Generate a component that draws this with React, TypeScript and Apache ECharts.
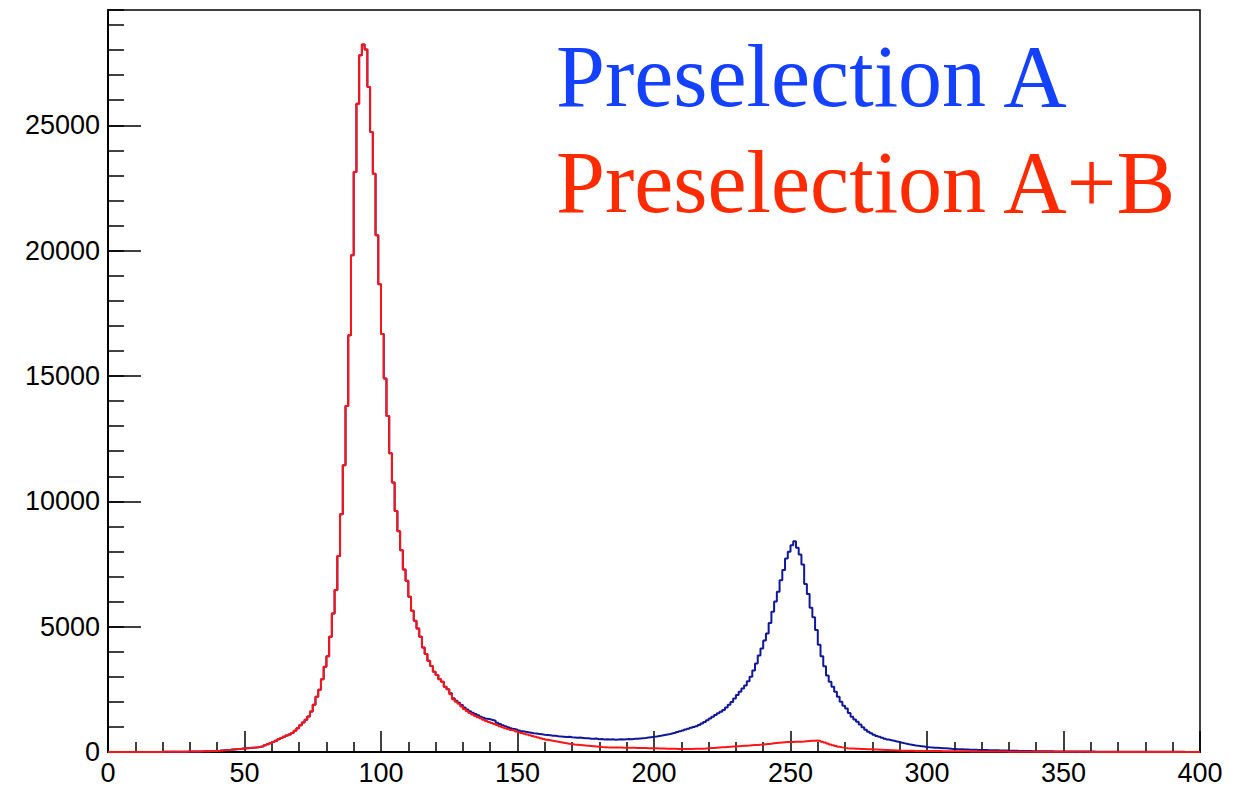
import React, { useEffect, useRef } from "react";
import * as echarts from "echarts";

// Histogram binning (1 unit wide bins from 0 to 400)
const BIN_WIDTH = 1;
const X_MIN = 0;
const X_MAX = 400;
const Y_MAX = 29600;

const SERIES_NAMES = ["Preselection A", "Preselection A+B"];

// Bins 0..124 : identical for both selections
const countsShared = [
  0, 0, 0, 0, 0, 1, 1, 1, 1, 1,
  1, 1, 2, 2, 2, 3, 3, 3, 4, 4,
  5, 6, 7, 8, 9, 10, 11, 12, 14, 16,
  18, 20, 22, 24, 26, 29, 32, 35, 39, 43,
  48, 60, 68, 76, 85, 95, 105, 115, 125, 138,
  148, 158, 168, 178, 190, 205, 230, 270, 310, 350,
  400, 450, 510, 560, 610, 660, 700, 760, 850, 950,
  1070, 1180, 1290, 1420, 1620, 1880, 2200, 2480, 2900, 3400,
  3820, 4600, 5530, 6460, 7820, 9480, 11440, 13800, 16630, 19820,
  23140, 25860, 27790, 28220, 28020, 26530, 24730, 23070, 20610, 18660,
  16670, 14900, 13400, 11920, 10750, 9610, 8810, 8050, 7280, 6830,
  6190, 5630, 5240, 4930, 4600, 4170, 3910, 3640, 3430, 3200,
  3070, 2900, 2800, 2600, 2500,
];

// Bins 125..399 : Preselection A
const tailPreselA = [
  2340, 2140, 2045, 1965, 1875, 1780, 1700, 1625, 1565, 1515,
  1465, 1407, 1367, 1328, 1304, 1276, 1248, 1168, 1116, 1063,
  1030, 990, 950, 915, 890, 860, 830, 805, 790, 770,
  750, 735, 720, 705, 690, 680, 670, 650, 645, 630,
  620, 610, 600, 610, 585, 580, 570, 575, 560, 545,
  550, 530, 525, 535, 510, 515, 500, 510, 495, 505,
  490, 500, 510, 495, 505, 515, 510, 525, 530, 540,
  550, 560, 575, 590, 605, 620, 640, 655, 680, 700,
  720, 745, 770, 800, 830, 860, 895, 930, 970, 1000,
  1030, 1080, 1140, 1200, 1270, 1340, 1410, 1480, 1550, 1610,
  1680, 1780, 1880, 1990, 2130, 2270, 2400, 2530, 2650, 2820,
  3000, 3250, 3530, 3850, 4130, 4450, 4730, 5150, 5590, 6000,
  6390, 6850, 7256, 7720, 7990, 8250, 8410, 8150, 7880, 7480,
  6700, 6300, 5750, 5380, 4870, 4280, 3820, 3420, 3050, 2800,
  2600, 2400, 2200, 2000, 1850, 1740, 1560, 1410, 1300, 1210,
  1100, 990, 890, 810, 750, 690, 640, 610, 570, 530,
  495, 470, 445, 420, 395, 370, 345, 320, 295, 280,
  262, 245, 230, 215, 200, 186, 178, 170, 165, 158,
  150, 146, 140, 130, 122, 115, 110, 106, 100, 96,
  92, 90, 87, 84, 82, 80, 77, 74, 72, 69,
  66, 63, 60, 57, 54, 50, 48, 46, 44, 42,
  40, 38, 36, 34, 32, 30, 29, 28, 27, 26,
  25, 24, 23, 22, 21, 20, 19, 19, 18, 18,
  17, 17, 16, 16, 15, 15, 14, 14, 13, 13,
  12, 12, 12, 11, 11, 11, 10, 10, 10, 9,
  9, 9, 8, 8, 8, 8, 7, 7, 7, 7,
  6, 6, 6, 6, 5, 5, 5, 5, 5, 4,
  4, 4, 4, 4, 3,
];

// Bins 125..399 : Preselection A+B
const tailPreselAB = [
  2300, 2100, 2000, 1920, 1820, 1720, 1640, 1560, 1500, 1440,
  1390, 1343, 1290, 1240, 1200, 1160, 1120, 1080, 1030, 990,
  950, 915, 880, 855, 820, 790, 760, 730, 700, 670,
  640, 610, 580, 550, 520, 490, 470, 450, 430, 410,
  390, 370, 350, 330, 315, 300, 290, 280, 270, 255,
  245, 235, 225, 215, 205, 195, 190, 185, 182, 180,
  178, 176, 175, 174, 173, 172, 170, 167, 164, 161,
  158, 155, 152, 150, 148, 146, 143, 140, 137, 134,
  131, 128, 125, 122, 120, 120, 121, 122, 124, 126,
  128, 130, 133, 140, 148, 156, 164, 172, 180, 186,
  192, 200, 208, 216, 224, 232, 239, 246, 253, 260,
  268, 276, 284, 292, 300, 310, 320, 330, 345, 360,
  372, 382, 390, 395, 399, 402, 405, 408, 412, 420,
  430, 438, 445, 452, 455, 440, 410, 375, 340, 300,
  270, 240, 210, 185, 165, 146, 140, 135, 130, 125,
  120, 116, 112, 109, 106, 100, 95, 90, 85, 80,
  75, 70, 65, 60, 56, 53, 51, 49, 47, 45,
  43, 42, 41, 40, 40, 39, 38, 37, 36, 35,
  34, 33, 32, 31, 30, 29, 28, 27, 26, 25,
  24, 23, 22, 21, 20, 19, 18, 18, 17, 17,
  16, 16, 15, 15, 14, 14, 13, 13, 12, 12,
  11, 11, 10, 10, 10, 9, 9, 9, 8, 8,
  8, 7, 7, 7, 7, 6, 6, 6, 6, 5,
  5, 5, 5, 5, 4, 4, 4, 4, 4, 4,
  3, 3, 3, 3, 3, 3, 3, 3, 2, 2,
  2, 2, 2, 2, 2, 2, 2, 2, 2, 2,
  1, 1, 1, 1, 1, 1, 1, 1, 1, 1,
  1, 1, 1, 1, 1,
];

const countsA = countsShared.concat(tailPreselA);
const countsAB = countsShared.concat(tailPreselAB);

function toSteps(counts: number[]): number[][] {
  const pts = counts.map((v, i) => [X_MIN + i * BIN_WIDTH, v]);
  pts.push([X_MIN + counts.length * BIN_WIDTH, counts[counts.length - 1]]);
  return pts;
}

const LABEL_FONT = '"Liberation Sans", Arial, Helvetica, sans-serif';
const SERIF_FONT = '"Liberation Serif", "Times New Roman", Times, serif';

export default function App() {
  const ref = useRef<HTMLDivElement>(null);

  useEffect(() => {
    if (!ref.current) return;
    const chart = echarts.init(ref.current, null, { renderer: "svg" });
    const option: any = {
      animation: false,
      backgroundColor: "#ffffff",
      grid: {
        left: 108,
        right: 57,
        top: 10,
        bottom: 34,
        show: true,
        borderColor: "#000",
        borderWidth: 1.5,
        backgroundColor: "transparent",
      },
      xAxis: {
        type: "value",
        min: X_MIN,
        max: X_MAX,
        interval: 50,
        axisLine: { show: true, lineStyle: { color: "#000", width: 2 } },
        axisTick: { show: true, inside: true, length: 21, lineStyle: { color: "#000", width: 1.5 } },
        minorTick: { show: true, splitNumber: 5, length: 10, lineStyle: { color: "#000", width: 1.5 } },
        axisLabel: {
          color: "#000",
          fontSize: 27,
          fontFamily: LABEL_FONT,
          margin: 7,
          formatter: (v: number) => String(v),
        },
        splitLine: { show: false },
        minorSplitLine: { show: false },
      },
      yAxis: [
        {
          type: "value",
          min: 0,
          max: Y_MAX,
          interval: 5000,
          position: "left",
          axisLine: { show: true, lineStyle: { color: "#000", width: 2 } },
          axisTick: { show: true, inside: true, length: 33, lineStyle: { color: "#000", width: 1.5 } },
          axisLabel: {
            color: "#000",
            fontSize: 27,
            fontFamily: LABEL_FONT,
            margin: 8,
            showMaxLabel: false,
            formatter: (v: number) => String(v),
          },
          splitLine: { show: false },
        },
        {
          type: "value",
          min: 0,
          max: Y_MAX,
          interval: 1000,
          position: "left",
          axisLine: { show: false },
          axisTick: { show: true, inside: true, length: 16, lineStyle: { color: "#000", width: 1.5 } },
          axisLabel: { show: false },
          splitLine: { show: false },
        },
      ],
      series: [
        {
          name: SERIES_NAMES[0],
          type: "line",
          step: "end",
          data: toSteps(countsA),
          showSymbol: false,
          symbol: "none",
          lineStyle: { color: "#10179a", width: 2 },
          z: 2,
        },
        {
          name: SERIES_NAMES[1],
          type: "line",
          step: "end",
          data: toSteps(countsAB),
          showSymbol: false,
          symbol: "none",
          lineStyle: { color: "#ff1414", width: 2 },
          z: 3,
        },
      ],
      graphic: [
        {
          type: "text",
          x: 556,
          y: 76,
          style: {
            text: SERIES_NAMES[0],
            font: `88px ${SERIF_FONT}`,
            fill: "#1440ff",
            textVerticalAlign: "middle",
          },
        },
        {
          type: "text",
          x: 556,
          y: 182,
          style: {
            text: SERIES_NAMES[1],
            font: `88px ${SERIF_FONT}`,
            fill: "#ff2a00",
            textVerticalAlign: "middle",
          },
        },
      ],
    };
    chart.setOption(option);
    return () => chart.dispose();
  }, []);

  return (
    <div
      ref={ref}
      style={{ position: "fixed", left: 0, top: 0, width: 1257, height: 786, background: "#fff" }}
    />
  );
}
